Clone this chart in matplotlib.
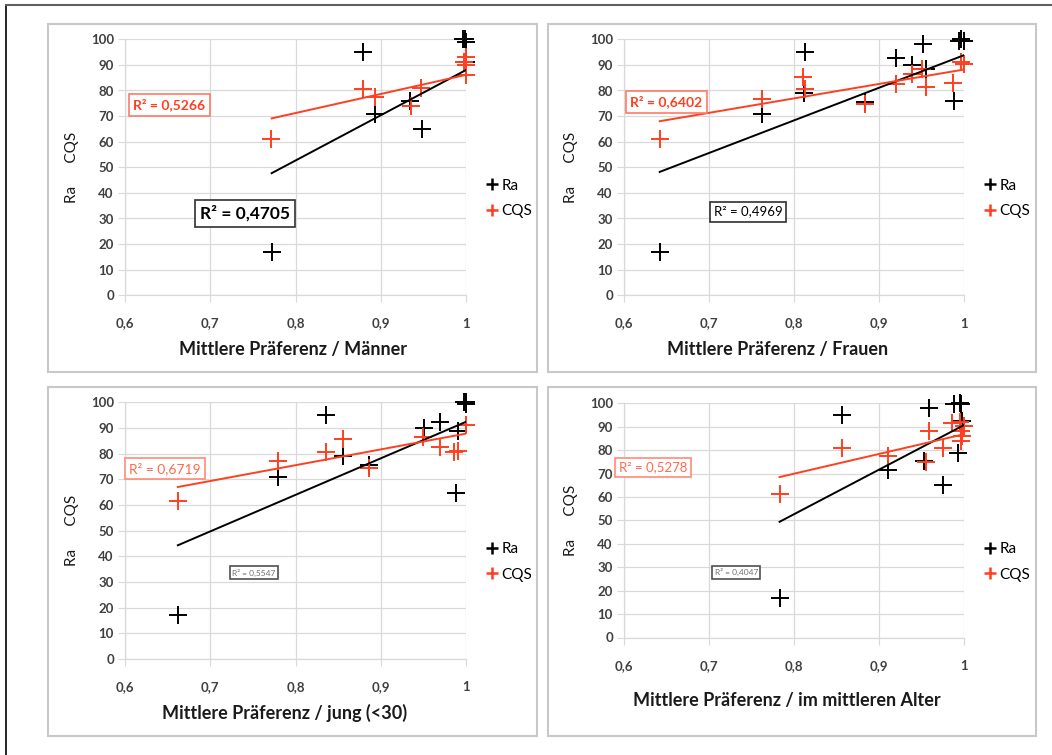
import matplotlib
matplotlib.use("Agg")
import matplotlib.pyplot as plt
from matplotlib.patches import Rectangle
from matplotlib.lines import Line2D

plt.rcParams['font.family'] = ['Lato', 'DejaVu Sans']

# ---------------- data ----------------
# Maenner
ra_m_x = [0.772, 0.879, 0.893, 0.934, 0.948, 0.997, 0.999, 1.0, 1.0]
ra_m_y = [17, 95, 71, 76, 65, 100, 100, 99, 91]
cqs_m_x = [0.771, 0.879, 0.893, 0.935, 0.947, 0.998, 1.0, 1.0, 1.0]
cqs_m_y = [61, 80.5, 77.5, 74, 81, 91, 93, 90, 86]
trend_m_x = [0.772, 1.0]
trend_m_ra = [47.7, 88.0]
trend_m_cqs = [69.1, 86.1]

# Frauen
ra_f_x = [0.642, 0.762, 0.813, 0.812, 0.884, 0.920, 0.939, 0.952, 0.955, 0.988, 0.994, 0.997, 1.0]
ra_f_y = [17, 71, 95, 79, 75.5, 92.5, 90, 98, 88.5, 76, 99.5, 100, 99.5]
cqs_f_x = [0.642, 0.762, 0.811, 0.813, 0.884, 0.920, 0.939, 0.951, 0.955, 0.987, 0.996, 1.0]
cqs_f_y = [61, 76.5, 85.3, 80.5, 74.8, 82.6, 86.5, 88.3, 81.3, 83, 91.2, 90.5]
trend_f_x = [0.642, 1.0]
trend_f_ra = [48.2, 93.8]
trend_f_cqs = [68.0, 88.2]

# jung (<30)
ra_j_x = [0.662, 0.780, 0.836, 0.856, 0.886, 0.951, 0.969, 0.988, 0.991, 0.998, 1.0, 1.0]
ra_j_y = [17, 71, 95, 79, 75.5, 90, 92.5, 64.6, 88.7, 100, 99.5, 100]
cqs_j_x = [0.662, 0.780, 0.836, 0.856, 0.886, 0.950, 0.970, 0.986, 0.991, 1.0]
cqs_j_y = [61.4, 77, 80.6, 85.7, 74.5, 86.3, 82.4, 80.8, 81, 91.2]
trend_j_x = [0.662, 1.0]
trend_j_ra = [44.3, 92.4]
trend_j_cqs = [67.0, 87.8]

# im mittleren Alter
ra_a_x = [0.783, 0.856, 0.911, 0.953, 0.959, 0.975, 0.988, 0.993, 0.995, 0.997, 0.998]
ra_a_y = [17, 95.2, 71.5, 75.2, 97.8, 65.2, 99.7, 78.7, 100, 99.5, 92.5]
cqs_a_x = [0.783, 0.856, 0.911, 0.955, 0.959, 0.975, 0.986, 0.995, 0.996, 0.997, 0.998, 1.0]
cqs_a_y = [61.4, 80.8, 77.3, 75, 88, 80.9, 91.4, 92, 88, 84, 86, 90.5]
trend_a_x = [0.783, 1.0]
trend_a_ra = [49.4, 90.7]
trend_a_cqs = [68.5, 86.8]

x_ticks = [0.6, 0.7, 0.8, 0.9, 1.0]
x_tick_labels = ['0,6', '0,7', '0,8', '0,9', '1']
y_ticks = [0, 10, 20, 30, 40, 50, 60, 70, 80, 90, 100]

RED = '#FF3F1F'
GRID = '#D9D9D9'
W, H = 1052, 755

fig = plt.figure(figsize=(W / 100, H / 100), dpi=100)


def px_rect(x0, y0, x1, y1):
    return [x0 / W, 1 - y1 / H, (x1 - x0) / W, (y1 - y0) / H]


# outer frame of the screenshot
fig.add_artist(Line2D([6 / W, 6 / W], [0, 1 - 5 / H], color='black', lw=1.2))
fig.add_artist(Line2D([6 / W, 1], [1 - 5 / H, 1 - 5 / H], color='#606060', lw=1.5))

# chart boxes
for (x0, y0, x1, y1) in [(48, 24, 537, 372), (548, 24, 1036, 372),
                         (48, 387, 537, 736), (548, 387, 1036, 736)]:
    r = px_rect(x0, y0, x1, y1)
    fig.add_artist(Rectangle((r[0], r[1]), r[2], r[3], transform=fig.transFigure,
                             fill=False, ec='#C8C8C8', lw=1.5))


def panel(rect, xlabel, xlab_pos, ra_x, ra_y, cqs_x, cqs_y, tx, tra, tcqs,
          r2_cqs, r2_ra, leg_pos):
    ax = fig.add_axes(px_rect(*rect))
    ax.set_xlim(0.6, 1.0)
    ax.set_ylim(0, 100)
    ax.set_xticks(x_ticks)
    ax.set_xticklabels(x_tick_labels)
    ax.set_yticks(y_ticks)
    ax.grid(True, color=GRID, lw=0.9)
    ax.set_axisbelow(True)
    for s in ['top', 'right']:
        ax.spines[s].set_visible(False)
    for s in ['left', 'bottom']:
        ax.spines[s].set_color(GRID)
        ax.spines[s].set_linewidth(0.9)
    ax.tick_params(length=5, color=GRID, labelsize=9.5, labelcolor='#404040')
    ax.tick_params(axis='x', pad=11)
    ax.tick_params(axis='y', pad=3)
    for lbl in ax.get_xticklabels() + ax.get_yticklabels():
        lbl.set_fontweight('bold')

    ax.plot(ra_x, ra_y, ls='none', marker='+', ms=12.5, mew=1.4, color='black',
            clip_on=False, zorder=3)
    ax.plot(cqs_x, cqs_y, ls='none', marker='+', ms=12.5, mew=1.4, color=RED,
            clip_on=False, zorder=3)
    ax.plot(tx, tra, color='black', lw=1.4, zorder=4)
    ax.plot(tx, tcqs, color=RED, lw=1.4, zorder=4)

    # R² boxes
    for (txt, x, y, col, ecol, fs, fw) in [r2_cqs, r2_ra]:
        ax.text(x, y, txt, color=col, ha='center', va='center', fontsize=fs,
                fontweight=fw, zorder=5,
                bbox=dict(boxstyle='square,pad=0.3', fc='white', ec=ecol, lw=1.2))

    ax.text(xlab_pos[0], xlab_pos[1], xlabel, transform=ax.transAxes,
            ha='center', va='center', fontsize=13, fontweight='bold', color='#1a1a1a')
    ax.text(-0.155, 0.5, 'Ra      CQS', transform=ax.transAxes, rotation=90,
            ha='center', va='center', fontsize=11, color='#1a1a1a')

    handles = [Line2D([], [], ls='none', marker='+', ms=9, mew=1.8, color='black'),
               Line2D([], [], ls='none', marker='+', ms=9, mew=1.8, color=RED)]
    ax.legend(handles, ['Ra', 'CQS'], loc='center left', bbox_to_anchor=leg_pos,
              frameon=False, handlelength=0.7, handletextpad=0.3,
              labelspacing=0.75, fontsize=11, borderaxespad=0, borderpad=0)
    return ax


panel((125, 39.3, 466, 295.3), 'Mittlere Präferenz / Männer', (0.493, -0.21),
      ra_m_x, ra_m_y, cqs_m_x, cqs_m_y, trend_m_x, trend_m_ra, trend_m_cqs,
      ('R² = 0,5266', 0.652, 74.3, RED, '#FF7A66', 10, 'bold'),
      ('R² = 0,4705', 0.741, 32.1, 'black', '#303030', 12.5, 'bold'),
      (1.06, 0.378))

panel((624, 39.3, 964, 295.3), 'Mittlere Präferenz / Frauen', (0.453, -0.21),
      ra_f_x, ra_f_y, cqs_f_x, cqs_f_y, trend_f_x, trend_f_ra, trend_f_cqs,
      ('R² = 0,6402', 0.650, 75.5, RED, '#FF7A66', 10, 'bold'),
      ('R² = 0,4969', 0.746, 32.7, 'black', '#303030', 9.5, 'normal'),
      (1.06, 0.378))

panel((125, 402.3, 466, 659), 'Mittlere Präferenz / jung (<30)', (0.469, -0.21),
      ra_j_x, ra_j_y, cqs_j_x, cqs_j_y, trend_j_x, trend_j_ra, trend_j_cqs,
      ('R² = 0,6719', 0.647, 74.3, '#FF6A50', '#FF8A78', 10, 'normal'),
      ('R² = 0,5547', 0.751, 33.7, '#707070', '#505050', 6, 'normal'),
      (1.06, 0.378))

panel((624, 403.3, 964, 637.5), 'Mittlere Präferenz / im mittleren Alter', (0.479, -0.267),
      ra_a_x, ra_a_y, cqs_a_x, cqs_a_y, trend_a_x, trend_a_ra, trend_a_cqs,
      ('R² = 0,5278', 0.634, 72.6, '#FF6A50', '#FF8A78', 9.5, 'normal'),
      ('R² = 0,4047', 0.732, 27.8, '#707070', '#505050', 6, 'normal'),
      (1.06, 0.322))

fig.savefig('out.png', dpi=100)
